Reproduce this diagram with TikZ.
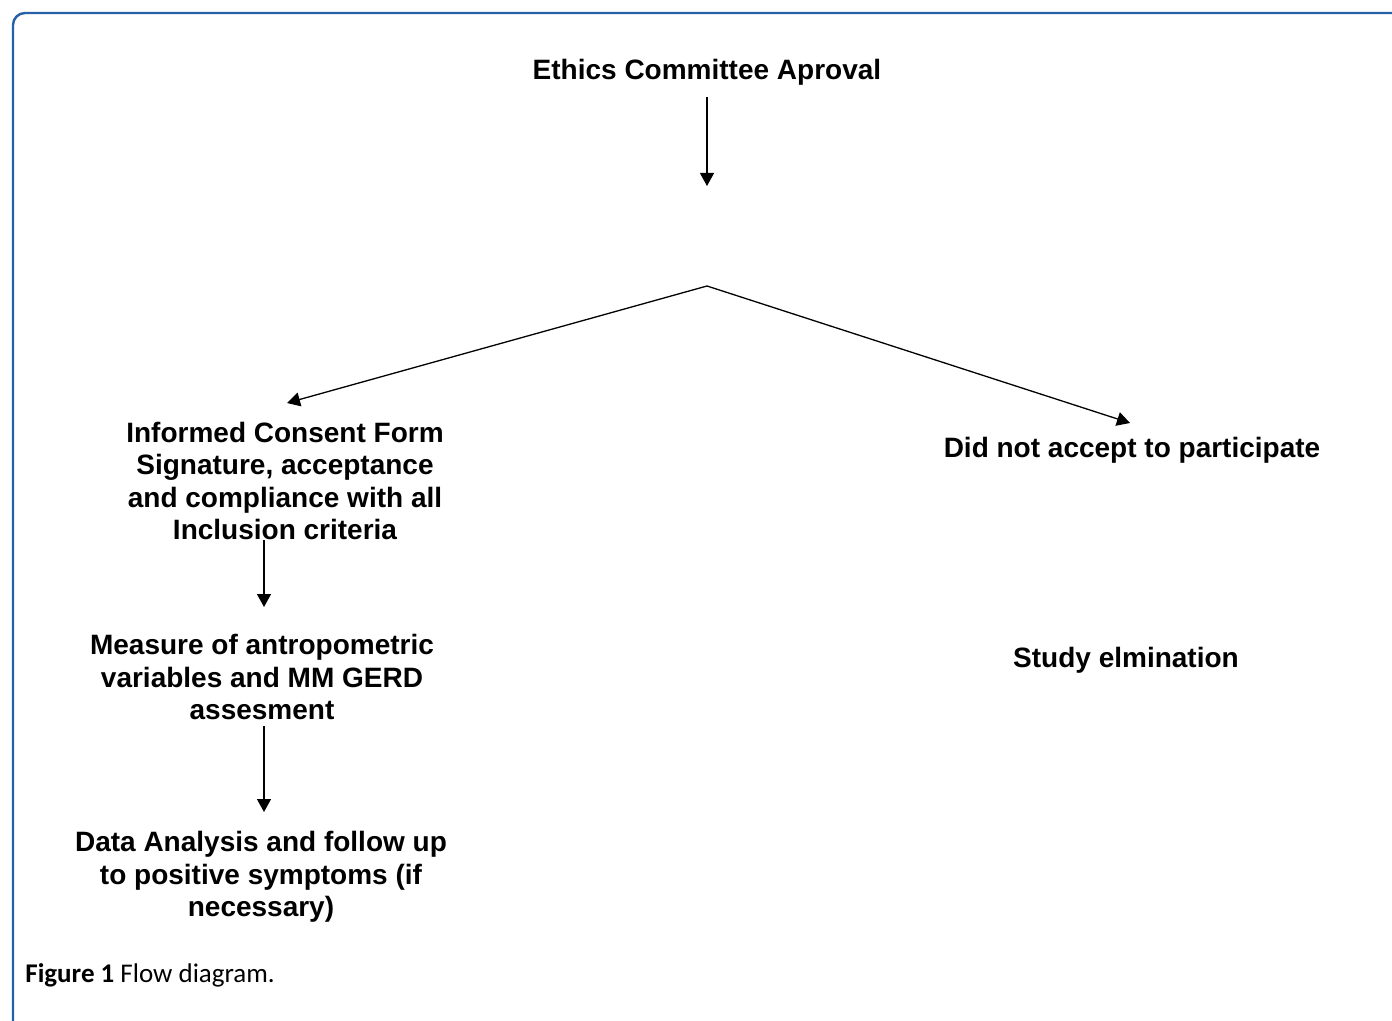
\documentclass[tikz,border=0pt]{standalone}
\usepackage{fontspec}
\setmainfont{Liberation Sans}
\newfontfamily\capfont{Carlito}
\usetikzlibrary{arrows.meta}

\definecolor{frameblue}{RGB}{38,96,166}

\tikzset{
    step text/.style={font=\bfseries\fontsize{14}{16.2}\selectfont, align=center, inner sep=0pt},
    flow/.style={-{Triangle[width=7pt,length=6.5pt]}, line width=0.65pt}
}

\begin{document}
\begin{tikzpicture}[x=0.5pt, y=-0.5pt]
        \useasboundingbox (0,0) rectangle (1392,1021);
        % the frame
        \draw[frameblue, line width=1.2pt, rounded corners=6pt] (13,1030) |- (1400,13);

        % the texts
        \node[step text] (ethics) at (707,72) {Ethics Committee Aproval};
        \node[step text] (consent) at (285,481) {Informed Consent Form\\Signature, acceptance\\and compliance with all\\Inclusion criteria};
        \node[step text] (measure) at (262,677) {Measure of antropometric\\variables and MM GERD\\assesment};
        \node[step text] (analysis) at (261,877) {Data Analysis and follow up\\to positive symptoms (if\\necessary)};
        \node[step text] (declined) at (1132,450) {Did not accept to participate};
        \node[step text] (elimination) at (1126,660) {Study elmination};
        \node[anchor=west, inner sep=0pt, font=\capfont\fontsize{13.5}{15}\selectfont] (caption) at (25,975) {\textbf{Figure 1} Flow diagram.};

        % the points where the arrows stop (they do not reach the texts)
        \coordinate (tip0) at (707,186);
        \coordinate (split) at (707,286);
        \coordinate (tipL) at (287,403);
        \coordinate (tipR) at (1130,423);
        \coordinate (tip1) at (264,607);
        \coordinate (tip2) at (264,812);

        % draw the arrows
        \draw[flow, shorten <=6pt] (ethics.south) -- (tip0);
        \draw[flow] (split) -- (tipL);
        \draw[flow] (split) -- (tipR);
        \draw[flow] (consent.south -| tip1) -- (tip1);
        \draw[flow, shorten <=3pt] (measure.south -| tip2) -- (tip2);
    \end{tikzpicture}
\end{document}
